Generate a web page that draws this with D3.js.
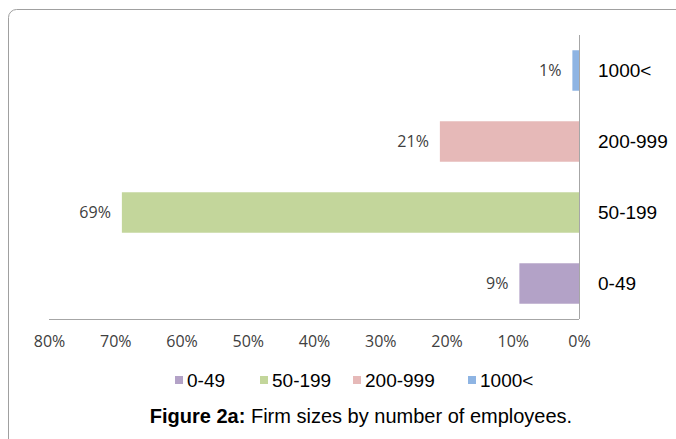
<!DOCTYPE html>
<html>
<head>
<meta charset="utf-8">
<script src="https://cdn.jsdelivr.net/npm/d3@7"></script>
<style>
  body { margin: 0; background: #fff; }
</style>
</head>
<body>
<script>
  // firm size shares, top to bottom as drawn
  var categories = ["1000<", "200-999", "50-199", "0-49"];
  var shares = [1, 21, 69, 9];
  var colors = ["#8EB4E3", "#E6B9B8", "#C3D69B", "#B3A2C7"];
  var ticks = [80, 70, 60, 50, 40, 30, 20, 10, 0];
  var legendOrder = ["0-49", "50-199", "200-999", "1000<"];

  var width = 676, height = 439;

  var svg = d3.select('body').append('svg')
    .attr('width', width)
    .attr('height', height);

  // outer frame
  svg.append('rect')
    .attr('x', 8.5).attr('y', 9.5)
    .attr('width', 700).attr('height', 460)
    .attr('rx', 8)
    .attr('fill', 'none')
    .attr('stroke', '#a0a0a0')
    .attr('stroke-width', 1);

  var x = d3.scaleLinear().domain([0, 80]).range([579, 49]);
  var y = d3.scaleBand().domain(categories).range([35, 319]).paddingInner(0.43).paddingOuter(0.215);

  // bottom axis line + labels
  svg.append('line')
    .attr('x1', x(80)).attr('x2', x(0))
    .attr('y1', 319.5).attr('y2', 319.5)
    .attr('stroke', '#a6a6a6');

  var xAxis = d3.axisBottom(x).tickValues(ticks).tickSize(0).tickPadding(0)
    .tickFormat(function(d) { return d + '%'; });
  var gx = svg.append('g').attr('transform', 'translate(0,336)').call(xAxis);
  gx.select('.domain').remove();
  gx.selectAll('text')
    .attr('font-family', '"Open Sans", Lato, sans-serif')
    .attr('font-size', 16)
    .attr('fill', '#404040');

  // bars
  var rows = categories.map(function(c, i) { return { cat: c, v: shares[i], color: colors[i] }; });

  svg.selectAll('rect.bar')
    .data(rows)
    .enter()
    .append('rect')
      .attr('class', 'bar')
      .attr('x', function(d) { return x(d.v); })
      .attr('y', function(d) { return y(d.cat); })
      .attr('width', function(d) { return x(0) - x(d.v); })
      .attr('height', y.bandwidth())
      .attr('fill', function(d) { return d.color; });

  // zero line
  svg.append('line')
    .attr('x1', x(0) + 0.5).attr('x2', x(0) + 0.5)
    .attr('y1', 35).attr('y2', 319)
    .attr('stroke', '#a6a6a6');

  // value labels
  svg.selectAll('text.val')
    .data(rows)
    .enter()
    .append('text')
      .attr('class', 'val')
      .attr('x', function(d) { return x(d.v) - 11; })
      .attr('y', function(d) { return y(d.cat) + y.bandwidth() / 2; })
      .attr('dy', '0.35em')
      .attr('text-anchor', 'end')
      .attr('font-family', '"Open Sans", Lato, sans-serif')
      .attr('font-size', 16)
      .attr('fill', '#404040')
      .text(function(d) { return d.v + '%'; });

  // category labels
  svg.selectAll('text.cat')
    .data(rows)
    .enter()
    .append('text')
      .attr('class', 'cat')
      .attr('x', 598)
      .attr('y', function(d) { return y(d.cat) + y.bandwidth() / 2; })
      .attr('dy', '0.35em')
      .attr('font-family', '"Liberation Sans", Arial, sans-serif')
      .attr('font-size', 19)
      .attr('fill', '#000')
      .text(function(d) { return d.cat; });

  // legend
  var legendX = [175, 260, 353, 468];
  var lg = svg.selectAll('g.leg')
    .data(legendOrder)
    .enter()
    .append('g')
      .attr('class', 'leg')
      .attr('transform', function(d, i) { return 'translate(' + legendX[i] + ',380)'; });
  lg.append('rect')
    .attr('x', 0).attr('y', -4)
    .attr('width', 8).attr('height', 8)
    .attr('fill', function(d) { return colors[categories.indexOf(d)]; });
  lg.append('text')
    .attr('x', 12)
    .attr('dy', '0.35em')
    .attr('font-family', '"Liberation Sans", Arial, sans-serif')
    .attr('font-size', 19)
    .attr('fill', '#000')
    .text(function(d) { return d; });

  // caption
  var cap = svg.append('text')
    .attr('x', 361)
    .attr('y', 416)
    .attr('dy', '0.35em')
    .attr('text-anchor', 'middle')
    .attr('font-family', '"Liberation Sans", Arial, sans-serif')
    .attr('font-size', 20)
    .attr('fill', '#000');
  cap.append('tspan').attr('font-weight', 'bold').text('Figure 2a:');
  cap.append('tspan').text(' Firm sizes by number of employees.');
</script>
</body>
</html>
